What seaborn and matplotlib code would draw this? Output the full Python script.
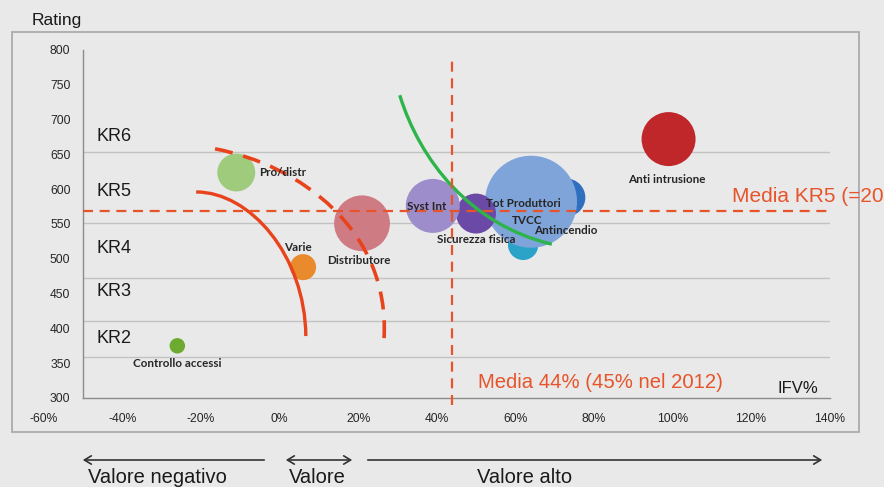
import numpy as np
import pandas as pd
import matplotlib
matplotlib.use("Agg")
import matplotlib.pyplot as plt
from matplotlib.path import Path
from matplotlib.patches import PathPatch, Rectangle, FancyArrowPatch
import seaborn as sns

# ---- data -------------------------------------------------------------
segmenti = ["TVCC", "Antincendio", "Tot Produttori", "Sicurezza fisica", "Syst Int",
            "Distributore", "Varie", "Pro/distr", "Controllo accessi", "Anti intrusione"]
ifv = [0.73, 0.62, 0.64, 0.50, 0.39, 0.21, 0.06, -0.11, -0.26, 0.99]
rating = [588, 520, 582, 565, 576, 551, 488, 624, 375, 672]
peso = [36, 23, 212, 40, 73, 78, 17, 36, 6, 73]
colori = ["#2f6fc0", "#2ba2c8", "#7fa4da", "#6a4aa6", "#9d8dcb",
          "#cf7b83", "#e98a2c", "#9fcb7c", "#6caa30", "#c0272b"]

kr_classi = ["KR6", "KR5", "KR4", "KR3", "KR2"]
kr_label_y = [676, 597, 515, 453, 386]
kr_limiti = [653, 552, 472, 411, 359]

media_ifv = 0.44
media_kr5 = 568

x_ticks = [-0.6, -0.4, -0.2, 0.0, 0.2, 0.4, 0.6, 0.8, 1.0, 1.2, 1.4]
x_tick_labels = ["-60%", "-40%", "-20%", "0%", "20%", "40%", "60%", "80%", "100%", "120%", "140%"]
y_ticks = [300, 350, 400, 450, 500, 550, 600, 650, 700, 750, 800]

# guide curves (cubic Bezier control points, data coordinates)
curva_rossa = [(-0.212, 596), (-0.075, 596), (0.065, 505), (0.067, 389)]
curva_tratteggiata = [(-0.164, 658), (0.052, 635), (0.281, 541), (0.266, 386)]
curva_verde = [(0.306, 735), (0.357, 642), (0.484, 549), (0.693, 521)]

# label offsets around each bubble (points)
offset_etichette = {
    "Controllo accessi": (0, -12.5, "center"),
    "Pro/distr": (16.5, 0, "left"),
    "Varie": (-3.5, 14, "center"),
    "Distributore": (-2.5, -26.5, "center"),
    "Syst Int": (-4.5, -0.5, "center"),
    "Sicurezza fisica": (0, -19, "center"),
    "Tot Produttori": (-5.5, -1.5, "center"),
    "TVCC": (-28.5, -16.5, "center"),
    "Antincendio": (31, 10.5, "center"),
    "Anti intrusione": (-1.5, -29, "center"),
}

df = pd.DataFrame({"segmento": segmenti, "ifv": ifv, "rating": rating, "peso": peso})
palette = dict(zip(segmenti, colori))

# ---- figure -----------------------------------------------------------
BG = "#e9e9ea"
sns.set_theme(style="white", rc={"figure.facecolor": BG, "axes.facecolor": BG})
plt.rcParams["font.family"] = ["Liberation Sans", "DejaVu Sans"]

W, H = 884, 487
fig = plt.figure(figsize=(W / 100, H / 100), dpi=100)


def fx(px):
    return px / W


def fy(py):
    return 1 - py / H


ax = fig.add_axes([fx(43.7), fy(398), (829.7 - 43.7) / W, (398 - 50) / H])
ax.set_xlim(-0.6, 1.4)
ax.set_ylim(300, 800)

ROSSO = "#e8542a"

# rating class boundaries
for yk in kr_limiti:
    ax.plot([-0.5, 1.4], [yk, yk], color="#c2c2c2", lw=1.0, zorder=1)
for lab, yl in zip(kr_classi, kr_label_y):
    ax.text(-0.466, yl, lab, ha="left", va="center", fontsize=13, color="#1a1a1a", zorder=5)

# bubbles
smax = (92 * 0.72) ** 2
sns.scatterplot(data=df, x="ifv", y="rating", hue="segmento", palette=palette,
                size="peso", sizes=(0, smax), size_norm=(0, max(peso)),
                legend=False, edgecolor="none", alpha=1.0, ax=ax, zorder=3)

# guide curves


def bezier(points, **kw):
    path = Path(points, [Path.MOVETO, Path.CURVE4, Path.CURVE4, Path.CURVE4])
    ax.add_patch(PathPatch(path, fill=False, capstyle="butt", zorder=4, clip_on=False, **kw))


bezier(curva_rossa, ec="#e8431c", lw=2.4)
bezier(curva_tratteggiata, ec="#e8431c", lw=2.6, ls=(0, (5, 3)))
bezier(curva_verde, ec="#2db54a", lw=2.4)

# average lines
ax.plot([-0.5, 1.4], [media_kr5, media_kr5], color=ROSSO, lw=1.6,
        ls=(0, (4.5, 3)), zorder=4)
ax.plot([media_ifv, media_ifv], [290, 789], color=ROSSO, lw=1.6,
        ls=(0, (4.5, 3)), zorder=4, clip_on=False)
ax.text(0.504, 322, "Media 44% (45% nel 2012)", color=ROSSO, fontsize=14.6,
        ha="left", va="center", zorder=5)
ax.text(1.152, 589, "Media KR5 (=20", color=ROSSO, fontsize=15,
        ha="left", va="center", zorder=5, clip_on=False)
ax.text(1.32, 314, "IFV%", color="#1a1a1a", fontsize=12, ha="center", va="center", zorder=5)

# bubble labels
for seg, xv, yv in zip(segmenti, ifv, rating):
    dx, dy, ha = offset_etichette[seg]
    ax.annotate(seg, (xv, yv), xytext=(dx, dy), textcoords="offset points",
                ha=ha, va="center", fontsize=8.4, family=["Lato", "DejaVu Sans"],
                fontweight="bold", color="#262626", zorder=6)

# axes styling
ax.set_xticks(x_ticks)
ax.set_xticklabels(x_tick_labels)
ax.set_yticks(y_ticks)
ax.set_yticklabels([str(v) for v in y_ticks])
ax.set_xlabel("")
ax.set_ylabel("")
for s in ("top", "right"):
    ax.spines[s].set_visible(False)
ax.spines["left"].set_position(("data", -0.5))
ax.spines["bottom"].set_bounds(-0.5, 1.4)
for s in ("left", "bottom"):
    ax.spines[s].set_color("#8c8c8c")
    ax.spines[s].set_linewidth(1.0)
ax.tick_params(axis="y", direction="out", length=4, width=1, color="#8c8c8c",
               pad=5, labelsize=8.7, labelcolor="#262626")
ax.tick_params(axis="x", direction="in", length=3, width=1, color="#8c8c8c",
               pad=11, labelsize=8.7, labelcolor="#262626")
ax.set_zorder(2)

# chart frame and title
fig.add_artist(Rectangle((fx(12), fy(432)), (859 - 12) / W, (432 - 32) / H,
                         transform=fig.transFigure, fill=False, ec="#ababab", lw=1.3))
fig.text(fx(57), fy(21), "Rating", ha="center", va="center", fontsize=12.5, color="#1a1a1a")

# value arrows under the chart
arrow_kw = dict(transform=fig.transFigure, color="#333333", lw=1.2,
                arrowstyle="->,head_length=5,head_width=3", mutation_scale=1)
fig.add_artist(FancyArrowPatch((fx(267), fy(460)), (fx(80), fy(460)), **arrow_kw))
fig.add_artist(FancyArrowPatch((fx(283), fy(460)), (fx(355), fy(460)),
                               transform=fig.transFigure, color="#333333", lw=1.2,
                               arrowstyle="<->,head_length=5,head_width=3", mutation_scale=1))
fig.add_artist(FancyArrowPatch((fx(365), fy(460)), (fx(825), fy(460)), **arrow_kw))
fig.text(fx(157.5), fy(483), "Valore negativo", ha="center", va="baseline", fontsize=14.5, color="#1a1a1a")
fig.text(fx(317.5), fy(483), "Valore", ha="center", va="baseline", fontsize=14.5, color="#1a1a1a")
fig.text(fx(477), fy(483), "Valore alto", ha="left", va="baseline", fontsize=14.5, color="#1a1a1a")

fig.savefig("out.png", dpi=100, facecolor=BG)
